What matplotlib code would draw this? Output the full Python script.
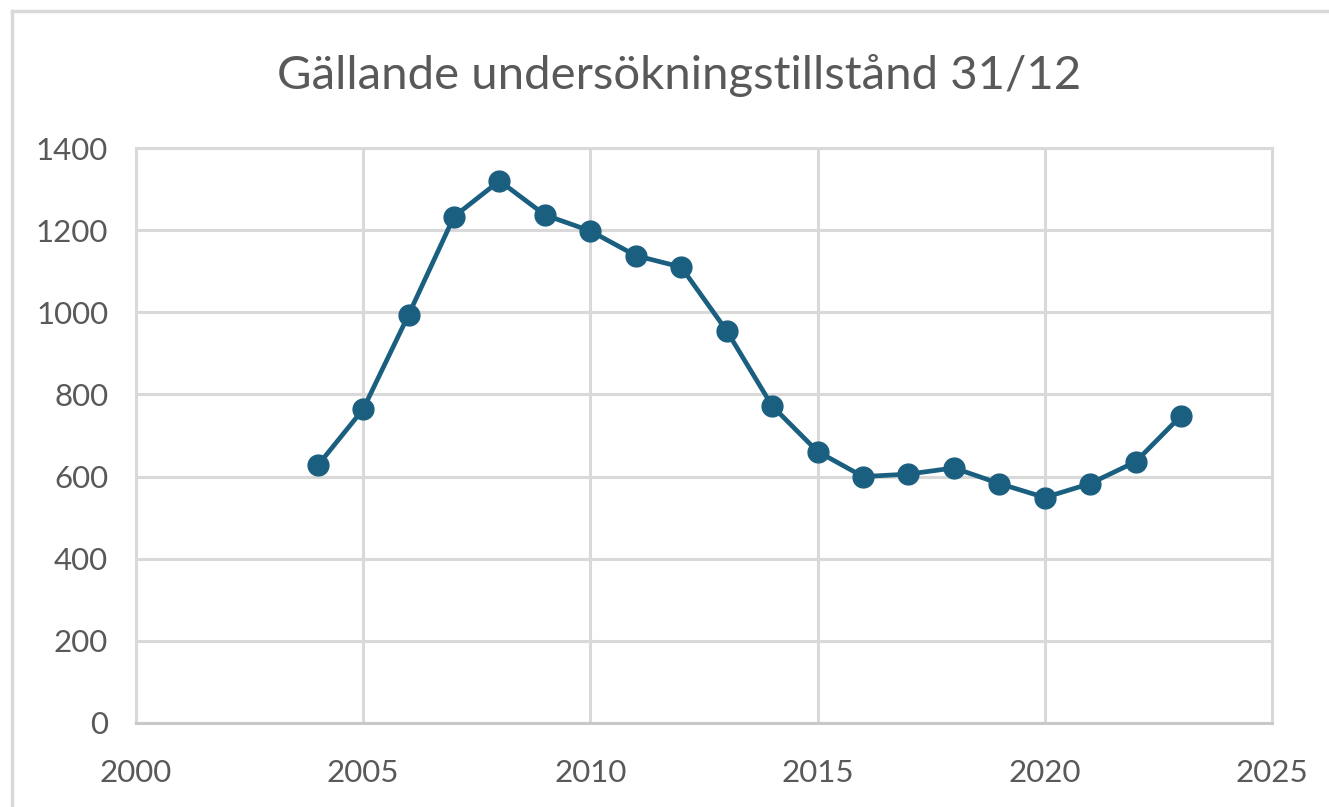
import matplotlib
matplotlib.use("Agg")
import matplotlib.pyplot as plt
from matplotlib.lines import Line2D

# data
years = [2004, 2005, 2006, 2007, 2008, 2009, 2010, 2011, 2012, 2013,
         2014, 2015, 2016, 2017, 2018, 2019, 2020, 2021, 2022, 2023]
values = [627, 764, 994, 1233, 1320, 1237, 1198, 1138, 1110, 955,
          772, 661, 600, 606, 621, 583, 549, 583, 636, 748]
x_ticks = [2000, 2005, 2010, 2015, 2020, 2025]
y_ticks = [0, 200, 400, 600, 800, 1000, 1200, 1400]
title = "Gällande undersökningstillstånd 31/12"

plt.rcParams['font.family'] = ['Lato', 'DejaVu Sans']
grey_text = '#595959'
grid_col = '#d9d9d9'
line_col = '#1b5f80'

fig = plt.figure(figsize=(13.29, 8.07), dpi=100)
ax = fig.add_axes([0.1023, 0.1041, 0.8548, 0.7125])

ax.plot(years, values, color=line_col, linewidth=3.4, marker='o',
        markersize=15, zorder=3, clip_on=False)

ax.set_xlim(2000, 2025)
ax.set_ylim(0, 1400)
ax.set_xticks(x_ticks)
ax.set_yticks(y_ticks)
ax.grid(True, color=grid_col, linewidth=2.2)
ax.set_axisbelow(True)
for s in ax.spines.values():
    s.set_color(grid_col)
    s.set_linewidth(2.2)
ax.spines['bottom'].set_color('#c8c8c8')
ax.tick_params(length=0, labelsize=22.5, colors=grey_text)
ax.tick_params(axis='x', pad=26)
ax.tick_params(axis='y', pad=20)

fig.text(0.511, 0.907, title, ha='center', va='center', fontsize=34, color=grey_text)

# outer chart border (top and left visible)
fig.add_artist(Line2D([0.009, 1.0], [0.9863, 0.9863], transform=fig.transFigure,
                      color=grid_col, linewidth=2.5))
fig.add_artist(Line2D([0.009, 0.009], [0.0, 0.9863], transform=fig.transFigure,
                      color=grid_col, linewidth=2.5))

fig.savefig("out.png", dpi=100)
